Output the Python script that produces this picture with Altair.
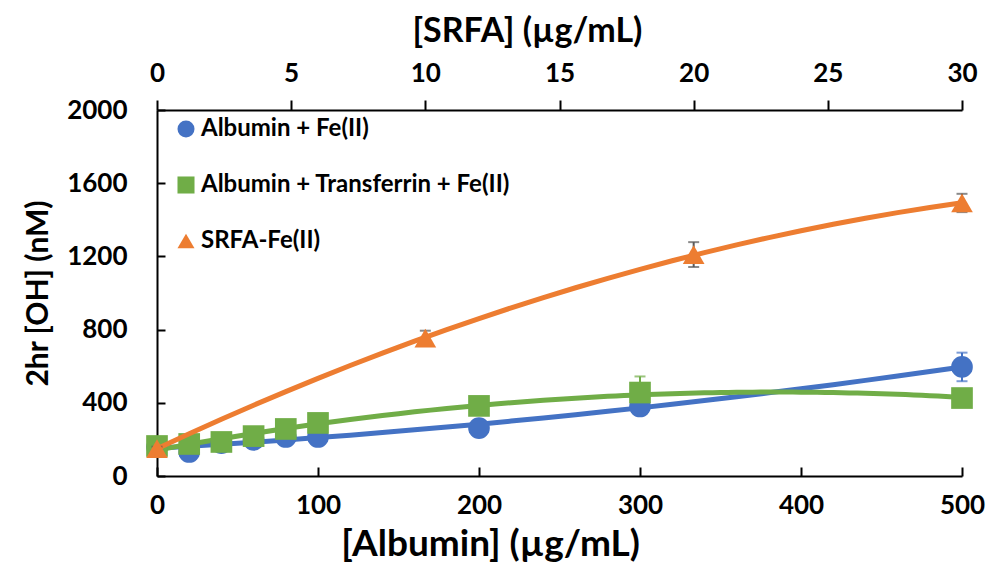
import altair as alt
import pandas as pd

# ---- data ----
albumin_conc = [0, 20, 40, 60, 80, 100, 200, 300, 500]
alb_fe_oh = [158, 131, 180, 197, 213, 213, 262, 380, 596]
alb_fe_err = [8, 10, 8, 8, 8, 8, 12, 25, 78]
alb_tf_oh = [164, 175, 186, 218, 257, 290, 383, 456, 426]
alb_tf_err = [8, 8, 8, 8, 8, 10, 15, 88, 12]
srfa_conc = [0, 10, 20, 30]
srfa_oh = [150, 754, 1210, 1492]
srfa_err = [10, 40, 68, 50]

series_names = ["Albumin + Fe(II)", "Albumin + Transferrin + Fe(II)", "SRFA-Fe(II)"]
series_colors = ["#4472C4", "#70AD47", "#ED7D31"]
series_shapes = ["circle", "square", "triangle-up"]
errbar_colors = ["#4472C4", "#70AD47", "#595959"]

y_ticks = [0, 400, 800, 1200, 1600, 2000]
alb_ticks = [0, 100, 200, 300, 400, 500]
srfa_ticks = [0, 5, 10, 15, 20, 25, 30]

FONT = "Lato"


def frame(x, y, e, name):
    return pd.DataFrame({"x": x, "oh": y, "err": e, "series": name})


df_alb_fe = frame(albumin_conc, alb_fe_oh, alb_fe_err, series_names[0])
df_alb_tf = frame(albumin_conc, alb_tf_oh, alb_tf_err, series_names[1])
df_srfa = frame(srfa_conc, srfa_oh, srfa_err, series_names[2])

PLOT_W, PLOT_H = 805, 366

y_scale = alt.Scale(domain=[0, 2000], nice=False)
y_axis = alt.Axis(
    title="2hr [OH] (nM)", values=y_ticks, format="d", grid=True, gridDash=[8, 4000],
    gridColor="black", gridWidth=2, gridOpacity=1, ticks=False,
    domainColor="black", domainWidth=2, labelFont=FONT, labelFontSize=26,
    labelFontWeight="bold", labelColor="black", labelPadding=30,
    titleFont=FONT, titleFontSize=30, titleFontWeight="bold", titleColor="black",
    titlePadding=13,
)
x_bottom_axis = alt.Axis(
    title="[Albumin] (µg/mL)", values=alb_ticks, orient="bottom", grid=True,
    gridDash=[0, PLOT_H - 9, 9, 4000], gridColor="black", gridWidth=2, gridOpacity=1,
    ticks=False, domainColor="black", domainWidth=2, labelFont=FONT, labelFontSize=26,
    labelFontWeight="bold", labelColor="black", labelPadding=16, labelFlush=False,
    titleFont=FONT, titleFontSize=37, titleFontWeight="bold", titleColor="black",
    titlePadding=8, titleX=333, titleAlign="center",
)
x_top_axis = alt.Axis(
    title="[SRFA] (µg/mL)", values=srfa_ticks, orient="top", grid=False,
    ticks=True, tickSize=10, tickWidth=2, tickColor="black",
    domainColor="black", domainWidth=2, labelFont=FONT, labelFontSize=26,
    labelFontWeight="bold", labelColor="black", labelPadding=14, labelFlush=False,
    titleFont=FONT, titleFontSize=34, titleFontWeight="bold", titleColor="black",
    titlePadding=12, titleX=370, titleAlign="center",
)

legend = alt.Legend(
    title=None, orient="none", legendX=17, legendY=7, padding=0,
    symbolSize=290, symbolStrokeWidth=0, symbolOpacity=1,
    labelFont=FONT, labelFontSize=24, labelFontWeight="bold", labelColor="black",
    labelOffset=3, rowPadding=32, labelLimit=600,
)
color_enc = alt.Color("series:N", scale=alt.Scale(domain=series_names, range=series_colors), legend=legend)
shape_enc = alt.Shape("series:N", scale=alt.Scale(domain=series_names, range=series_shapes), legend=legend)


def series_layers(df, x_enc, color, err_color):
    base = alt.Chart(df)
    y_enc = alt.Y("oh:Q", scale=y_scale, axis=y_axis)
    line = base.transform_regression("x", "oh", method="poly", order=2).mark_line(
        color=color, strokeWidth=5
    ).encode(x=x_enc, y=y_enc)
    errd = base.transform_calculate(lo="datum.oh - datum.err", hi="datum.oh + datum.err")
    rule = errd.mark_rule(color=err_color, strokeWidth=2).encode(
        x=x_enc, y=alt.Y("lo:Q", scale=y_scale, axis=y_axis), y2="hi:Q"
    )
    cap_lo = errd.mark_tick(color=err_color, orient="horizontal", size=11, thickness=2).encode(
        x=x_enc, y=alt.Y("lo:Q", scale=y_scale, axis=y_axis)
    )
    cap_hi = errd.mark_tick(color=err_color, orient="horizontal", size=11, thickness=2).encode(
        x=x_enc, y=alt.Y("hi:Q", scale=y_scale, axis=y_axis)
    )
    pts = base.mark_point(filled=True, size=470, opacity=1, strokeWidth=0).encode(
        x=x_enc, y=y_enc, color=color_enc, shape=shape_enc
    )
    return [line, rule, cap_lo, cap_hi], pts


x_alb = alt.X("x:Q", scale=alt.Scale(domain=[0, 500], nice=False), axis=x_bottom_axis)
x_srfa = alt.X("x:Q", scale=alt.Scale(domain=[0, 30], nice=False), axis=x_top_axis)

l1, p1 = series_layers(df_alb_fe, x_alb, series_colors[0], errbar_colors[0])
l2, p2 = series_layers(df_alb_tf, x_alb, series_colors[1], errbar_colors[1])
l3, p3 = series_layers(df_srfa, x_srfa, series_colors[2], errbar_colors[2])

layer_alb = alt.layer(*l1, *l2, p1, p2)
layer_srfa = alt.layer(*l3, p3)

chart = alt.layer(layer_alb, layer_srfa).resolve_scale(x="independent").properties(
    width=PLOT_W, height=PLOT_H,
    autosize=alt.AutoSizeParams(type="none"),
    padding={"left": 157, "top": 110, "right": 28, "bottom": 95},
    background="white",
).configure_view(stroke=None)

chart.save("out.html", embed_options={"renderer": "svg", "actions": False})
